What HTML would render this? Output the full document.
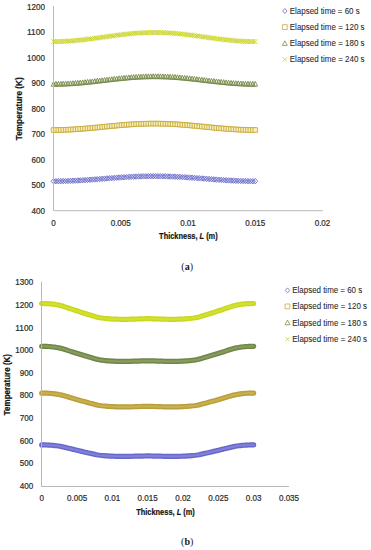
<!DOCTYPE html>
<html><head><meta charset="utf-8"><style>
html,body{margin:0;padding:0;background:#fff;}
svg{display:block;font-family:"Liberation Sans", sans-serif;}
</style></head><body>
<svg width="371" height="550" viewBox="0 0 371 550">
<rect width="371" height="550" fill="#ffffff"/>
<text x="45.00" y="213.60" font-size="8.6" text-anchor="end" font-weight="normal" fill="#2a2a2a" stroke="#2a2a2a" stroke-width="0.2" textLength="13.48" lengthAdjust="spacingAndGlyphs" >400</text>
<text x="45.00" y="188.09" font-size="8.6" text-anchor="end" font-weight="normal" fill="#2a2a2a" stroke="#2a2a2a" stroke-width="0.2" textLength="13.48" lengthAdjust="spacingAndGlyphs" >500</text>
<text x="45.00" y="162.58" font-size="8.6" text-anchor="end" font-weight="normal" fill="#2a2a2a" stroke="#2a2a2a" stroke-width="0.2" textLength="13.48" lengthAdjust="spacingAndGlyphs" >600</text>
<text x="45.00" y="137.07" font-size="8.6" text-anchor="end" font-weight="normal" fill="#2a2a2a" stroke="#2a2a2a" stroke-width="0.2" textLength="13.48" lengthAdjust="spacingAndGlyphs" >700</text>
<text x="45.00" y="111.56" font-size="8.6" text-anchor="end" font-weight="normal" fill="#2a2a2a" stroke="#2a2a2a" stroke-width="0.2" textLength="13.48" lengthAdjust="spacingAndGlyphs" >800</text>
<text x="45.00" y="86.05" font-size="8.6" text-anchor="end" font-weight="normal" fill="#2a2a2a" stroke="#2a2a2a" stroke-width="0.2" textLength="13.48" lengthAdjust="spacingAndGlyphs" >900</text>
<text x="45.00" y="60.54" font-size="8.6" text-anchor="end" font-weight="normal" fill="#2a2a2a" stroke="#2a2a2a" stroke-width="0.2" textLength="17.97" lengthAdjust="spacingAndGlyphs" >1000</text>
<text x="45.00" y="35.03" font-size="8.6" text-anchor="end" font-weight="normal" fill="#2a2a2a" stroke="#2a2a2a" stroke-width="0.2" textLength="17.97" lengthAdjust="spacingAndGlyphs" >1100</text>
<text x="45.00" y="9.52" font-size="8.6" text-anchor="end" font-weight="normal" fill="#2a2a2a" stroke="#2a2a2a" stroke-width="0.2" textLength="17.97" lengthAdjust="spacingAndGlyphs" >1200</text>
<text x="53.50" y="225.90" font-size="8.6" text-anchor="middle" font-weight="normal" fill="#2a2a2a" stroke="#2a2a2a" stroke-width="0.2" textLength="4.49" lengthAdjust="spacingAndGlyphs" >0</text>
<text x="120.75" y="225.90" font-size="8.6" text-anchor="middle" font-weight="normal" fill="#2a2a2a" stroke="#2a2a2a" stroke-width="0.2" textLength="20.2" lengthAdjust="spacingAndGlyphs" >0.005</text>
<text x="188.00" y="225.90" font-size="8.6" text-anchor="middle" font-weight="normal" fill="#2a2a2a" stroke="#2a2a2a" stroke-width="0.2" textLength="15.71" lengthAdjust="spacingAndGlyphs" >0.01</text>
<text x="255.25" y="225.90" font-size="8.6" text-anchor="middle" font-weight="normal" fill="#2a2a2a" stroke="#2a2a2a" stroke-width="0.2" textLength="20.2" lengthAdjust="spacingAndGlyphs" >0.015</text>
<text x="322.50" y="225.90" font-size="8.6" text-anchor="middle" font-weight="normal" fill="#2a2a2a" stroke="#2a2a2a" stroke-width="0.2" textLength="15.71" lengthAdjust="spacingAndGlyphs" >0.02</text>
<text x="188.40" y="239.10" font-size="8.8" text-anchor="middle" font-weight="bold" fill="#141414" stroke="#141414" stroke-width="0.2" textLength="58.6" lengthAdjust="spacingAndGlyphs" >Thickness, <tspan font-style="italic">L</tspan> (m)</text>
<g transform="translate(19.8,108.7) rotate(-90)"><text x="0.00" y="2.60" font-size="8.4" text-anchor="middle" font-weight="bold" fill="#141414" stroke="#141414" stroke-width="0.2" textLength="63" lengthAdjust="spacingAndGlyphs" >Temperature (K)</text></g>
<text x="187.2" y="270.4" font-family="Liberation Serif" font-size="10" text-anchor="middle" fill="#1a1a1a">(<tspan font-weight="bold">a</tspan>)</text>
<text x="33.20" y="489.00" font-size="8.6" text-anchor="end" font-weight="normal" fill="#2a2a2a" stroke="#2a2a2a" stroke-width="0.2" textLength="13.48" lengthAdjust="spacingAndGlyphs" >400</text>
<text x="33.20" y="466.36" font-size="8.6" text-anchor="end" font-weight="normal" fill="#2a2a2a" stroke="#2a2a2a" stroke-width="0.2" textLength="13.48" lengthAdjust="spacingAndGlyphs" >500</text>
<text x="33.20" y="443.72" font-size="8.6" text-anchor="end" font-weight="normal" fill="#2a2a2a" stroke="#2a2a2a" stroke-width="0.2" textLength="13.48" lengthAdjust="spacingAndGlyphs" >600</text>
<text x="33.20" y="421.08" font-size="8.6" text-anchor="end" font-weight="normal" fill="#2a2a2a" stroke="#2a2a2a" stroke-width="0.2" textLength="13.48" lengthAdjust="spacingAndGlyphs" >700</text>
<text x="33.20" y="398.44" font-size="8.6" text-anchor="end" font-weight="normal" fill="#2a2a2a" stroke="#2a2a2a" stroke-width="0.2" textLength="13.48" lengthAdjust="spacingAndGlyphs" >800</text>
<text x="33.20" y="375.80" font-size="8.6" text-anchor="end" font-weight="normal" fill="#2a2a2a" stroke="#2a2a2a" stroke-width="0.2" textLength="13.48" lengthAdjust="spacingAndGlyphs" >900</text>
<text x="33.20" y="353.16" font-size="8.6" text-anchor="end" font-weight="normal" fill="#2a2a2a" stroke="#2a2a2a" stroke-width="0.2" textLength="17.97" lengthAdjust="spacingAndGlyphs" >1000</text>
<text x="33.20" y="330.52" font-size="8.6" text-anchor="end" font-weight="normal" fill="#2a2a2a" stroke="#2a2a2a" stroke-width="0.2" textLength="17.97" lengthAdjust="spacingAndGlyphs" >1100</text>
<text x="33.20" y="307.88" font-size="8.6" text-anchor="end" font-weight="normal" fill="#2a2a2a" stroke="#2a2a2a" stroke-width="0.2" textLength="17.97" lengthAdjust="spacingAndGlyphs" >1200</text>
<text x="33.20" y="285.24" font-size="8.6" text-anchor="end" font-weight="normal" fill="#2a2a2a" stroke="#2a2a2a" stroke-width="0.2" textLength="17.97" lengthAdjust="spacingAndGlyphs" >1300</text>
<text x="41.70" y="501.40" font-size="8.6" text-anchor="middle" font-weight="normal" fill="#2a2a2a" stroke="#2a2a2a" stroke-width="0.2" textLength="4.49" lengthAdjust="spacingAndGlyphs" >0</text>
<text x="77.03" y="501.40" font-size="8.6" text-anchor="middle" font-weight="normal" fill="#2a2a2a" stroke="#2a2a2a" stroke-width="0.2" textLength="20.2" lengthAdjust="spacingAndGlyphs" >0.005</text>
<text x="112.36" y="501.40" font-size="8.6" text-anchor="middle" font-weight="normal" fill="#2a2a2a" stroke="#2a2a2a" stroke-width="0.2" textLength="15.71" lengthAdjust="spacingAndGlyphs" >0.01</text>
<text x="147.69" y="501.40" font-size="8.6" text-anchor="middle" font-weight="normal" fill="#2a2a2a" stroke="#2a2a2a" stroke-width="0.2" textLength="20.2" lengthAdjust="spacingAndGlyphs" >0.015</text>
<text x="183.02" y="501.40" font-size="8.6" text-anchor="middle" font-weight="normal" fill="#2a2a2a" stroke="#2a2a2a" stroke-width="0.2" textLength="15.71" lengthAdjust="spacingAndGlyphs" >0.02</text>
<text x="218.35" y="501.40" font-size="8.6" text-anchor="middle" font-weight="normal" fill="#2a2a2a" stroke="#2a2a2a" stroke-width="0.2" textLength="20.2" lengthAdjust="spacingAndGlyphs" >0.025</text>
<text x="253.68" y="501.40" font-size="8.6" text-anchor="middle" font-weight="normal" fill="#2a2a2a" stroke="#2a2a2a" stroke-width="0.2" textLength="15.71" lengthAdjust="spacingAndGlyphs" >0.03</text>
<text x="289.01" y="501.40" font-size="8.6" text-anchor="middle" font-weight="normal" fill="#2a2a2a" stroke="#2a2a2a" stroke-width="0.2" textLength="20.2" lengthAdjust="spacingAndGlyphs" >0.035</text>
<text x="165.50" y="515.10" font-size="8.8" text-anchor="middle" font-weight="bold" fill="#141414" stroke="#141414" stroke-width="0.2" textLength="58.6" lengthAdjust="spacingAndGlyphs" >Thickness, <tspan font-style="italic">L</tspan> (m)</text>
<g transform="translate(6.9,384.6) rotate(-90)"><text x="0.00" y="2.60" font-size="8.4" text-anchor="middle" font-weight="bold" fill="#141414" stroke="#141414" stroke-width="0.2" textLength="61.2" lengthAdjust="spacingAndGlyphs" >Temperature (K)</text></g>
<text x="187.2" y="544.9" font-family="Liberation Serif" font-size="10" text-anchor="middle" fill="#1a1a1a">(<tspan font-weight="bold">b</tspan>)</text>
<path d="M53.50,181.20 L55.93,181.19 L58.36,181.17 L60.79,181.14 L63.22,181.09 L65.65,181.02 L68.08,180.95 L70.52,180.86 L72.95,180.76 L75.38,180.64 L77.81,180.52 L80.24,180.38 L82.67,180.24 L85.10,180.08 L87.53,179.92 L89.96,179.75 L92.39,179.58 L94.82,179.40 L97.25,179.22 L99.68,179.03 L102.11,178.84 L104.55,178.65 L106.98,178.46 L109.41,178.28 L111.84,178.09 L114.27,177.91 L116.70,177.73 L119.13,177.56 L121.56,177.40 L123.99,177.24 L126.42,177.09 L128.85,176.95 L131.28,176.82 L133.71,176.70 L136.14,176.59 L138.58,176.50 L141.01,176.41 L143.44,176.34 L145.87,176.29 L148.30,176.24 L150.73,176.22 L153.16,176.20 L155.59,176.20 L158.02,176.22 L160.45,176.24 L162.88,176.29 L165.31,176.34 L167.74,176.41 L170.17,176.50 L172.61,176.59 L175.04,176.70 L177.47,176.82 L179.90,176.95 L182.33,177.09 L184.76,177.24 L187.19,177.40 L189.62,177.56 L192.05,177.73 L194.48,177.91 L196.91,178.09 L199.34,178.28 L201.77,178.46 L204.20,178.65 L206.64,178.84 L209.07,179.03 L211.50,179.22 L213.93,179.40 L216.36,179.58 L218.79,179.75 L221.22,179.92 L223.65,180.08 L226.08,180.24 L228.51,180.38 L230.94,180.52 L233.37,180.64 L235.80,180.76 L238.23,180.86 L240.67,180.95 L243.10,181.02 L245.53,181.09 L247.96,181.14 L250.39,181.17 L252.82,181.19 L255.25,181.20" fill="none" stroke="#c8c8f0" stroke-width="4.0"/>
<path d="M51.00,181.20L53.50,178.45L56.00,181.20L53.50,183.95ZM53.43,181.19L55.93,178.44L58.43,181.19L55.93,183.94ZM55.86,181.17L58.36,178.42L60.86,181.17L58.36,183.92ZM58.29,181.14L60.79,178.39L63.29,181.14L60.79,183.89ZM60.72,181.09L63.22,178.34L65.72,181.09L63.22,183.84ZM63.15,181.02L65.65,178.27L68.15,181.02L65.65,183.77ZM65.58,180.95L68.08,178.20L70.58,180.95L68.08,183.70ZM68.02,180.86L70.52,178.11L73.02,180.86L70.52,183.61ZM70.45,180.76L72.95,178.01L75.45,180.76L72.95,183.51ZM72.88,180.64L75.38,177.89L77.88,180.64L75.38,183.39ZM75.31,180.52L77.81,177.77L80.31,180.52L77.81,183.27ZM77.74,180.38L80.24,177.63L82.74,180.38L80.24,183.13ZM80.17,180.24L82.67,177.49L85.17,180.24L82.67,182.99ZM82.60,180.08L85.10,177.33L87.60,180.08L85.10,182.83ZM85.03,179.92L87.53,177.17L90.03,179.92L87.53,182.67ZM87.46,179.75L89.96,177.00L92.46,179.75L89.96,182.50ZM89.89,179.58L92.39,176.83L94.89,179.58L92.39,182.33ZM92.32,179.40L94.82,176.65L97.32,179.40L94.82,182.15ZM94.75,179.22L97.25,176.47L99.75,179.22L97.25,181.97ZM97.18,179.03L99.68,176.28L102.18,179.03L99.68,181.78ZM99.61,178.84L102.11,176.09L104.61,178.84L102.11,181.59ZM102.05,178.65L104.55,175.90L107.05,178.65L104.55,181.40ZM104.48,178.46L106.98,175.71L109.48,178.46L106.98,181.21ZM106.91,178.28L109.41,175.53L111.91,178.28L109.41,181.03ZM109.34,178.09L111.84,175.34L114.34,178.09L111.84,180.84ZM111.77,177.91L114.27,175.16L116.77,177.91L114.27,180.66ZM114.20,177.73L116.70,174.98L119.20,177.73L116.70,180.48ZM116.63,177.56L119.13,174.81L121.63,177.56L119.13,180.31ZM119.06,177.40L121.56,174.65L124.06,177.40L121.56,180.15ZM121.49,177.24L123.99,174.49L126.49,177.24L123.99,179.99ZM123.92,177.09L126.42,174.34L128.92,177.09L126.42,179.84ZM126.35,176.95L128.85,174.20L131.35,176.95L128.85,179.70ZM128.78,176.82L131.28,174.07L133.78,176.82L131.28,179.57ZM131.21,176.70L133.71,173.95L136.21,176.70L133.71,179.45ZM133.64,176.59L136.14,173.84L138.64,176.59L136.14,179.34ZM136.08,176.50L138.58,173.75L141.08,176.50L138.58,179.25ZM138.51,176.41L141.01,173.66L143.51,176.41L141.01,179.16ZM140.94,176.34L143.44,173.59L145.94,176.34L143.44,179.09ZM143.37,176.29L145.87,173.54L148.37,176.29L145.87,179.04ZM145.80,176.24L148.30,173.49L150.80,176.24L148.30,178.99ZM148.23,176.22L150.73,173.47L153.23,176.22L150.73,178.97ZM150.66,176.20L153.16,173.45L155.66,176.20L153.16,178.95ZM153.09,176.20L155.59,173.45L158.09,176.20L155.59,178.95ZM155.52,176.22L158.02,173.47L160.52,176.22L158.02,178.97ZM157.95,176.24L160.45,173.49L162.95,176.24L160.45,178.99ZM160.38,176.29L162.88,173.54L165.38,176.29L162.88,179.04ZM162.81,176.34L165.31,173.59L167.81,176.34L165.31,179.09ZM165.24,176.41L167.74,173.66L170.24,176.41L167.74,179.16ZM167.67,176.50L170.17,173.75L172.67,176.50L170.17,179.25ZM170.11,176.59L172.61,173.84L175.11,176.59L172.61,179.34ZM172.54,176.70L175.04,173.95L177.54,176.70L175.04,179.45ZM174.97,176.82L177.47,174.07L179.97,176.82L177.47,179.57ZM177.40,176.95L179.90,174.20L182.40,176.95L179.90,179.70ZM179.83,177.09L182.33,174.34L184.83,177.09L182.33,179.84ZM182.26,177.24L184.76,174.49L187.26,177.24L184.76,179.99ZM184.69,177.40L187.19,174.65L189.69,177.40L187.19,180.15ZM187.12,177.56L189.62,174.81L192.12,177.56L189.62,180.31ZM189.55,177.73L192.05,174.98L194.55,177.73L192.05,180.48ZM191.98,177.91L194.48,175.16L196.98,177.91L194.48,180.66ZM194.41,178.09L196.91,175.34L199.41,178.09L196.91,180.84ZM196.84,178.28L199.34,175.53L201.84,178.28L199.34,181.03ZM199.27,178.46L201.77,175.71L204.27,178.46L201.77,181.21ZM201.70,178.65L204.20,175.90L206.70,178.65L204.20,181.40ZM204.14,178.84L206.64,176.09L209.14,178.84L206.64,181.59ZM206.57,179.03L209.07,176.28L211.57,179.03L209.07,181.78ZM209.00,179.22L211.50,176.47L214.00,179.22L211.50,181.97ZM211.43,179.40L213.93,176.65L216.43,179.40L213.93,182.15ZM213.86,179.58L216.36,176.83L218.86,179.58L216.36,182.33ZM216.29,179.75L218.79,177.00L221.29,179.75L218.79,182.50ZM218.72,179.92L221.22,177.17L223.72,179.92L221.22,182.67ZM221.15,180.08L223.65,177.33L226.15,180.08L223.65,182.83ZM223.58,180.24L226.08,177.49L228.58,180.24L226.08,182.99ZM226.01,180.38L228.51,177.63L231.01,180.38L228.51,183.13ZM228.44,180.52L230.94,177.77L233.44,180.52L230.94,183.27ZM230.87,180.64L233.37,177.89L235.87,180.64L233.37,183.39ZM233.30,180.76L235.80,178.01L238.30,180.76L235.80,183.51ZM235.73,180.86L238.23,178.11L240.73,180.86L238.23,183.61ZM238.17,180.95L240.67,178.20L243.17,180.95L240.67,183.70ZM240.60,181.02L243.10,178.27L245.60,181.02L243.10,183.77ZM243.03,181.09L245.53,178.34L248.03,181.09L245.53,183.84ZM245.46,181.14L247.96,178.39L250.46,181.14L247.96,183.89ZM247.89,181.17L250.39,178.42L252.89,181.17L250.39,183.92ZM250.32,181.19L252.82,178.44L255.32,181.19L252.82,183.94ZM252.75,181.20L255.25,178.45L257.75,181.20L255.25,183.95Z" fill="none" stroke="#7070ca" stroke-width="0.9"/>
<g fill="#f8f0c0" stroke="#c8ac3c" stroke-width="0.9"><path d="M51.20,127.70h4.6v4.6h-4.6Z"/><path d="M53.63,127.69h4.6v4.6h-4.6Z"/><path d="M56.06,127.66h4.6v4.6h-4.6Z"/><path d="M58.49,127.62h4.6v4.6h-4.6Z"/><path d="M60.92,127.55h4.6v4.6h-4.6Z"/><path d="M63.35,127.47h4.6v4.6h-4.6Z"/><path d="M65.78,127.38h4.6v4.6h-4.6Z"/><path d="M68.22,127.26h4.6v4.6h-4.6Z"/><path d="M70.65,127.13h4.6v4.6h-4.6Z"/><path d="M73.08,126.99h4.6v4.6h-4.6Z"/><path d="M75.51,126.83h4.6v4.6h-4.6Z"/><path d="M77.94,126.65h4.6v4.6h-4.6Z"/><path d="M80.37,126.47h4.6v4.6h-4.6Z"/><path d="M82.80,126.27h4.6v4.6h-4.6Z"/><path d="M85.23,126.06h4.6v4.6h-4.6Z"/><path d="M87.66,125.85h4.6v4.6h-4.6Z"/><path d="M90.09,125.63h4.6v4.6h-4.6Z"/><path d="M92.52,125.40h4.6v4.6h-4.6Z"/><path d="M94.95,125.16h4.6v4.6h-4.6Z"/><path d="M97.38,124.92h4.6v4.6h-4.6Z"/><path d="M99.81,124.68h4.6v4.6h-4.6Z"/><path d="M102.25,124.44h4.6v4.6h-4.6Z"/><path d="M104.68,124.20h4.6v4.6h-4.6Z"/><path d="M107.11,123.96h4.6v4.6h-4.6Z"/><path d="M109.54,123.72h4.6v4.6h-4.6Z"/><path d="M111.97,123.49h4.6v4.6h-4.6Z"/><path d="M114.40,123.26h4.6v4.6h-4.6Z"/><path d="M116.83,123.04h4.6v4.6h-4.6Z"/><path d="M119.26,122.83h4.6v4.6h-4.6Z"/><path d="M121.69,122.63h4.6v4.6h-4.6Z"/><path d="M124.12,122.44h4.6v4.6h-4.6Z"/><path d="M126.55,122.26h4.6v4.6h-4.6Z"/><path d="M128.98,122.09h4.6v4.6h-4.6Z"/><path d="M131.41,121.94h4.6v4.6h-4.6Z"/><path d="M133.84,121.80h4.6v4.6h-4.6Z"/><path d="M136.28,121.68h4.6v4.6h-4.6Z"/><path d="M138.71,121.57h4.6v4.6h-4.6Z"/><path d="M141.14,121.48h4.6v4.6h-4.6Z"/><path d="M143.57,121.41h4.6v4.6h-4.6Z"/><path d="M146.00,121.36h4.6v4.6h-4.6Z"/><path d="M148.43,121.32h4.6v4.6h-4.6Z"/><path d="M150.86,121.30h4.6v4.6h-4.6Z"/><path d="M153.29,121.30h4.6v4.6h-4.6Z"/><path d="M155.72,121.32h4.6v4.6h-4.6Z"/><path d="M158.15,121.36h4.6v4.6h-4.6Z"/><path d="M160.58,121.41h4.6v4.6h-4.6Z"/><path d="M163.01,121.48h4.6v4.6h-4.6Z"/><path d="M165.44,121.57h4.6v4.6h-4.6Z"/><path d="M167.87,121.68h4.6v4.6h-4.6Z"/><path d="M170.31,121.80h4.6v4.6h-4.6Z"/><path d="M172.74,121.94h4.6v4.6h-4.6Z"/><path d="M175.17,122.09h4.6v4.6h-4.6Z"/><path d="M177.60,122.26h4.6v4.6h-4.6Z"/><path d="M180.03,122.44h4.6v4.6h-4.6Z"/><path d="M182.46,122.63h4.6v4.6h-4.6Z"/><path d="M184.89,122.83h4.6v4.6h-4.6Z"/><path d="M187.32,123.04h4.6v4.6h-4.6Z"/><path d="M189.75,123.26h4.6v4.6h-4.6Z"/><path d="M192.18,123.49h4.6v4.6h-4.6Z"/><path d="M194.61,123.72h4.6v4.6h-4.6Z"/><path d="M197.04,123.96h4.6v4.6h-4.6Z"/><path d="M199.47,124.20h4.6v4.6h-4.6Z"/><path d="M201.90,124.44h4.6v4.6h-4.6Z"/><path d="M204.34,124.68h4.6v4.6h-4.6Z"/><path d="M206.77,124.92h4.6v4.6h-4.6Z"/><path d="M209.20,125.16h4.6v4.6h-4.6Z"/><path d="M211.63,125.40h4.6v4.6h-4.6Z"/><path d="M214.06,125.63h4.6v4.6h-4.6Z"/><path d="M216.49,125.85h4.6v4.6h-4.6Z"/><path d="M218.92,126.06h4.6v4.6h-4.6Z"/><path d="M221.35,126.27h4.6v4.6h-4.6Z"/><path d="M223.78,126.47h4.6v4.6h-4.6Z"/><path d="M226.21,126.65h4.6v4.6h-4.6Z"/><path d="M228.64,126.83h4.6v4.6h-4.6Z"/><path d="M231.07,126.99h4.6v4.6h-4.6Z"/><path d="M233.50,127.13h4.6v4.6h-4.6Z"/><path d="M235.93,127.26h4.6v4.6h-4.6Z"/><path d="M238.37,127.38h4.6v4.6h-4.6Z"/><path d="M240.80,127.47h4.6v4.6h-4.6Z"/><path d="M243.23,127.55h4.6v4.6h-4.6Z"/><path d="M245.66,127.62h4.6v4.6h-4.6Z"/><path d="M248.09,127.66h4.6v4.6h-4.6Z"/><path d="M250.52,127.69h4.6v4.6h-4.6Z"/><path d="M252.95,127.70h4.6v4.6h-4.6Z"/></g>
<path d="M53.50,84.60 L55.93,84.59 L58.36,84.56 L60.79,84.50 L63.22,84.43 L65.65,84.33 L68.08,84.21 L70.52,84.08 L72.95,83.92 L75.38,83.75 L77.81,83.56 L80.24,83.36 L82.67,83.14 L85.10,82.90 L87.53,82.66 L89.96,82.40 L92.39,82.14 L94.82,81.86 L97.25,81.59 L99.68,81.30 L102.11,81.02 L104.55,80.73 L106.98,80.44 L109.41,80.16 L111.84,79.87 L114.27,79.60 L116.70,79.33 L119.13,79.07 L121.56,78.82 L123.99,78.58 L126.42,78.35 L128.85,78.14 L131.28,77.94 L133.71,77.76 L136.14,77.60 L138.58,77.45 L141.01,77.32 L143.44,77.22 L145.87,77.13 L148.30,77.07 L150.73,77.02 L153.16,77.00 L155.59,77.00 L158.02,77.02 L160.45,77.07 L162.88,77.13 L165.31,77.22 L167.74,77.32 L170.17,77.45 L172.61,77.60 L175.04,77.76 L177.47,77.94 L179.90,78.14 L182.33,78.35 L184.76,78.58 L187.19,78.82 L189.62,79.07 L192.05,79.33 L194.48,79.60 L196.91,79.87 L199.34,80.16 L201.77,80.44 L204.20,80.73 L206.64,81.02 L209.07,81.30 L211.50,81.59 L213.93,81.86 L216.36,82.14 L218.79,82.40 L221.22,82.66 L223.65,82.90 L226.08,83.14 L228.51,83.36 L230.94,83.56 L233.37,83.75 L235.80,83.92 L238.23,84.08 L240.67,84.21 L243.10,84.33 L245.53,84.43 L247.96,84.50 L250.39,84.56 L252.82,84.59 L255.25,84.60" fill="none" stroke="#e8eecc" stroke-width="3.4"/>
<path d="M51.20,86.21L53.50,81.40L55.80,86.21ZM53.63,86.20L55.93,81.39L58.23,86.20ZM56.06,86.17L58.36,81.36L60.66,86.17ZM58.49,86.11L60.79,81.30L63.09,86.11ZM60.92,86.04L63.22,81.23L65.52,86.04ZM63.35,85.94L65.65,81.13L67.95,85.94ZM65.78,85.82L68.08,81.01L70.38,85.82ZM68.22,85.69L70.52,80.88L72.82,85.69ZM70.65,85.53L72.95,80.72L75.25,85.53ZM73.08,85.36L75.38,80.55L77.68,85.36ZM75.51,85.17L77.81,80.36L80.11,85.17ZM77.94,84.97L80.24,80.16L82.54,84.97ZM80.37,84.75L82.67,79.94L84.97,84.75ZM82.80,84.51L85.10,79.70L87.40,84.51ZM85.23,84.27L87.53,79.46L89.83,84.27ZM87.66,84.01L89.96,79.20L92.26,84.01ZM90.09,83.75L92.39,78.94L94.69,83.75ZM92.52,83.47L94.82,78.66L97.12,83.47ZM94.95,83.20L97.25,78.39L99.55,83.20ZM97.38,82.91L99.68,78.10L101.98,82.91ZM99.81,82.63L102.11,77.82L104.41,82.63ZM102.25,82.34L104.55,77.53L106.85,82.34ZM104.68,82.05L106.98,77.24L109.28,82.05ZM107.11,81.77L109.41,76.96L111.71,81.77ZM109.54,81.48L111.84,76.67L114.14,81.48ZM111.97,81.21L114.27,76.40L116.57,81.21ZM114.40,80.94L116.70,76.13L119.00,80.94ZM116.83,80.68L119.13,75.87L121.43,80.68ZM119.26,80.43L121.56,75.62L123.86,80.43ZM121.69,80.19L123.99,75.38L126.29,80.19ZM124.12,79.96L126.42,75.15L128.72,79.96ZM126.55,79.75L128.85,74.94L131.15,79.75ZM128.98,79.55L131.28,74.74L133.58,79.55ZM131.41,79.37L133.71,74.56L136.01,79.37ZM133.84,79.21L136.14,74.40L138.44,79.21ZM136.28,79.06L138.58,74.25L140.88,79.06ZM138.71,78.93L141.01,74.12L143.31,78.93ZM141.14,78.83L143.44,74.02L145.74,78.83ZM143.57,78.74L145.87,73.93L148.17,78.74ZM146.00,78.68L148.30,73.87L150.60,78.68ZM148.43,78.63L150.73,73.82L153.03,78.63ZM150.86,78.61L153.16,73.80L155.46,78.61ZM153.29,78.61L155.59,73.80L157.89,78.61ZM155.72,78.63L158.02,73.82L160.32,78.63ZM158.15,78.68L160.45,73.87L162.75,78.68ZM160.58,78.74L162.88,73.93L165.18,78.74ZM163.01,78.83L165.31,74.02L167.61,78.83ZM165.44,78.93L167.74,74.12L170.04,78.93ZM167.87,79.06L170.17,74.25L172.47,79.06ZM170.31,79.21L172.61,74.40L174.91,79.21ZM172.74,79.37L175.04,74.56L177.34,79.37ZM175.17,79.55L177.47,74.74L179.77,79.55ZM177.60,79.75L179.90,74.94L182.20,79.75ZM180.03,79.96L182.33,75.15L184.63,79.96ZM182.46,80.19L184.76,75.38L187.06,80.19ZM184.89,80.43L187.19,75.62L189.49,80.43ZM187.32,80.68L189.62,75.87L191.92,80.68ZM189.75,80.94L192.05,76.13L194.35,80.94ZM192.18,81.21L194.48,76.40L196.78,81.21ZM194.61,81.48L196.91,76.67L199.21,81.48ZM197.04,81.77L199.34,76.96L201.64,81.77ZM199.47,82.05L201.77,77.24L204.07,82.05ZM201.90,82.34L204.20,77.53L206.50,82.34ZM204.34,82.63L206.64,77.82L208.94,82.63ZM206.77,82.91L209.07,78.10L211.37,82.91ZM209.20,83.20L211.50,78.39L213.80,83.20ZM211.63,83.47L213.93,78.66L216.23,83.47ZM214.06,83.75L216.36,78.94L218.66,83.75ZM216.49,84.01L218.79,79.20L221.09,84.01ZM218.92,84.27L221.22,79.46L223.52,84.27ZM221.35,84.51L223.65,79.70L225.95,84.51ZM223.78,84.75L226.08,79.94L228.38,84.75ZM226.21,84.97L228.51,80.16L230.81,84.97ZM228.64,85.17L230.94,80.36L233.24,85.17ZM231.07,85.36L233.37,80.55L235.67,85.36ZM233.50,85.53L235.80,80.72L238.10,85.53ZM235.93,85.69L238.23,80.88L240.53,85.69ZM238.37,85.82L240.67,81.01L242.97,85.82ZM240.80,85.94L243.10,81.13L245.40,85.94ZM243.23,86.04L245.53,81.23L247.83,86.04ZM245.66,86.11L247.96,81.30L250.26,86.11ZM248.09,86.17L250.39,81.36L252.69,86.17ZM250.52,86.20L252.82,81.39L255.12,86.20ZM252.95,86.21L255.25,81.40L257.55,86.21Z" fill="none" stroke="#74884c" stroke-width="0.9"/>
<path d="M53.50,41.60 L55.93,41.59 L58.36,41.55 L60.79,41.48 L63.22,41.39 L65.65,41.28 L68.08,41.14 L70.52,40.98 L72.95,40.79 L75.38,40.58 L77.81,40.36 L80.24,40.11 L82.67,39.85 L85.10,39.57 L87.53,39.28 L89.96,38.97 L92.39,38.65 L94.82,38.32 L97.25,37.99 L99.68,37.65 L102.11,37.31 L104.55,36.96 L106.98,36.62 L109.41,36.28 L111.84,35.94 L114.27,35.61 L116.70,35.29 L119.13,34.98 L121.56,34.68 L123.99,34.39 L126.42,34.12 L128.85,33.86 L131.28,33.63 L133.71,33.41 L136.14,33.21 L138.58,33.04 L141.01,32.89 L143.44,32.76 L145.87,32.66 L148.30,32.58 L150.73,32.53 L153.16,32.50 L155.59,32.50 L158.02,32.53 L160.45,32.58 L162.88,32.66 L165.31,32.76 L167.74,32.89 L170.17,33.04 L172.61,33.21 L175.04,33.41 L177.47,33.63 L179.90,33.86 L182.33,34.12 L184.76,34.39 L187.19,34.68 L189.62,34.98 L192.05,35.29 L194.48,35.61 L196.91,35.94 L199.34,36.28 L201.77,36.62 L204.20,36.96 L206.64,37.31 L209.07,37.65 L211.50,37.99 L213.93,38.32 L216.36,38.65 L218.79,38.97 L221.22,39.28 L223.65,39.57 L226.08,39.85 L228.51,40.11 L230.94,40.36 L233.37,40.58 L235.80,40.79 L238.23,40.98 L240.67,41.14 L243.10,41.28 L245.53,41.39 L247.96,41.48 L250.39,41.55 L252.82,41.59 L255.25,41.60" fill="none" stroke="#e6ea84" stroke-width="4.0"/>
<path d="M51.00,39.10L56.00,44.10M51.00,44.10L56.00,39.10M53.43,39.09L58.43,44.09M53.43,44.09L58.43,39.09M55.86,39.05L60.86,44.05M55.86,44.05L60.86,39.05M58.29,38.98L63.29,43.98M58.29,43.98L63.29,38.98M60.72,38.89L65.72,43.89M60.72,43.89L65.72,38.89M63.15,38.78L68.15,43.78M63.15,43.78L68.15,38.78M65.58,38.64L70.58,43.64M65.58,43.64L70.58,38.64M68.02,38.48L73.02,43.48M68.02,43.48L73.02,38.48M70.45,38.29L75.45,43.29M70.45,43.29L75.45,38.29M72.88,38.08L77.88,43.08M72.88,43.08L77.88,38.08M75.31,37.86L80.31,42.86M75.31,42.86L80.31,37.86M77.74,37.61L82.74,42.61M77.74,42.61L82.74,37.61M80.17,37.35L85.17,42.35M80.17,42.35L85.17,37.35M82.60,37.07L87.60,42.07M82.60,42.07L87.60,37.07M85.03,36.78L90.03,41.78M85.03,41.78L90.03,36.78M87.46,36.47L92.46,41.47M87.46,41.47L92.46,36.47M89.89,36.15L94.89,41.15M89.89,41.15L94.89,36.15M92.32,35.82L97.32,40.82M92.32,40.82L97.32,35.82M94.75,35.49L99.75,40.49M94.75,40.49L99.75,35.49M97.18,35.15L102.18,40.15M97.18,40.15L102.18,35.15M99.61,34.81L104.61,39.81M99.61,39.81L104.61,34.81M102.05,34.46L107.05,39.46M102.05,39.46L107.05,34.46M104.48,34.12L109.48,39.12M104.48,39.12L109.48,34.12M106.91,33.78L111.91,38.78M106.91,38.78L111.91,33.78M109.34,33.44L114.34,38.44M109.34,38.44L114.34,33.44M111.77,33.11L116.77,38.11M111.77,38.11L116.77,33.11M114.20,32.79L119.20,37.79M114.20,37.79L119.20,32.79M116.63,32.48L121.63,37.48M116.63,37.48L121.63,32.48M119.06,32.18L124.06,37.18M119.06,37.18L124.06,32.18M121.49,31.89L126.49,36.89M121.49,36.89L126.49,31.89M123.92,31.62L128.92,36.62M123.92,36.62L128.92,31.62M126.35,31.36L131.35,36.36M126.35,36.36L131.35,31.36M128.78,31.13L133.78,36.13M128.78,36.13L133.78,31.13M131.21,30.91L136.21,35.91M131.21,35.91L136.21,30.91M133.64,30.71L138.64,35.71M133.64,35.71L138.64,30.71M136.08,30.54L141.08,35.54M136.08,35.54L141.08,30.54M138.51,30.39L143.51,35.39M138.51,35.39L143.51,30.39M140.94,30.26L145.94,35.26M140.94,35.26L145.94,30.26M143.37,30.16L148.37,35.16M143.37,35.16L148.37,30.16M145.80,30.08L150.80,35.08M145.80,35.08L150.80,30.08M148.23,30.03L153.23,35.03M148.23,35.03L153.23,30.03M150.66,30.00L155.66,35.00M150.66,35.00L155.66,30.00M153.09,30.00L158.09,35.00M153.09,35.00L158.09,30.00M155.52,30.03L160.52,35.03M155.52,35.03L160.52,30.03M157.95,30.08L162.95,35.08M157.95,35.08L162.95,30.08M160.38,30.16L165.38,35.16M160.38,35.16L165.38,30.16M162.81,30.26L167.81,35.26M162.81,35.26L167.81,30.26M165.24,30.39L170.24,35.39M165.24,35.39L170.24,30.39M167.67,30.54L172.67,35.54M167.67,35.54L172.67,30.54M170.11,30.71L175.11,35.71M170.11,35.71L175.11,30.71M172.54,30.91L177.54,35.91M172.54,35.91L177.54,30.91M174.97,31.13L179.97,36.13M174.97,36.13L179.97,31.13M177.40,31.36L182.40,36.36M177.40,36.36L182.40,31.36M179.83,31.62L184.83,36.62M179.83,36.62L184.83,31.62M182.26,31.89L187.26,36.89M182.26,36.89L187.26,31.89M184.69,32.18L189.69,37.18M184.69,37.18L189.69,32.18M187.12,32.48L192.12,37.48M187.12,37.48L192.12,32.48M189.55,32.79L194.55,37.79M189.55,37.79L194.55,32.79M191.98,33.11L196.98,38.11M191.98,38.11L196.98,33.11M194.41,33.44L199.41,38.44M194.41,38.44L199.41,33.44M196.84,33.78L201.84,38.78M196.84,38.78L201.84,33.78M199.27,34.12L204.27,39.12M199.27,39.12L204.27,34.12M201.70,34.46L206.70,39.46M201.70,39.46L206.70,34.46M204.14,34.81L209.14,39.81M204.14,39.81L209.14,34.81M206.57,35.15L211.57,40.15M206.57,40.15L211.57,35.15M209.00,35.49L214.00,40.49M209.00,40.49L214.00,35.49M211.43,35.82L216.43,40.82M211.43,40.82L216.43,35.82M213.86,36.15L218.86,41.15M213.86,41.15L218.86,36.15M216.29,36.47L221.29,41.47M216.29,41.47L221.29,36.47M218.72,36.78L223.72,41.78M218.72,41.78L223.72,36.78M221.15,37.07L226.15,42.07M221.15,42.07L226.15,37.07M223.58,37.35L228.58,42.35M223.58,42.35L228.58,37.35M226.01,37.61L231.01,42.61M226.01,42.61L231.01,37.61M228.44,37.86L233.44,42.86M228.44,42.86L233.44,37.86M230.87,38.08L235.87,43.08M230.87,43.08L235.87,38.08M233.30,38.29L238.30,43.29M233.30,43.29L238.30,38.29M235.73,38.48L240.73,43.48M235.73,43.48L240.73,38.48M238.17,38.64L243.17,43.64M238.17,43.64L243.17,38.64M240.60,38.78L245.60,43.78M240.60,43.78L245.60,38.78M243.03,38.89L248.03,43.89M243.03,43.89L248.03,38.89M245.46,38.98L250.46,43.98M245.46,43.98L250.46,38.98M247.89,39.05L252.89,44.05M247.89,44.05L252.89,39.05M250.32,39.09L255.32,44.09M250.32,44.09L255.32,39.09M252.75,39.10L257.75,44.10M252.75,44.10L257.75,39.10" fill="none" stroke="#ccd630" stroke-width="0.9"/>
<path d="M41.70,444.90 L42.58,444.91 L43.79,444.93 L45.23,444.94 L46.80,444.98 L48.42,445.04 L50.00,445.13 L51.57,445.26 L53.21,445.40 L54.89,445.58 L56.60,445.78 L58.31,446.01 L60.00,446.28 L61.67,446.60 L63.33,446.96 L65.00,447.35 L66.67,447.76 L68.33,448.18 L70.00,448.58 L71.67,448.98 L73.33,449.38 L75.00,449.79 L76.67,450.19 L78.33,450.60 L80.00,451.00 L81.67,451.39 L83.33,451.78 L85.00,452.17 L86.67,452.56 L88.33,452.93 L90.00,453.29 L91.64,453.65 L93.26,454.01 L94.88,454.36 L96.52,454.69 L98.22,454.99 L100.00,455.25 L101.87,455.47 L103.81,455.66 L105.81,455.82 L107.85,455.95 L109.92,456.07 L112.00,456.17 L114.12,456.25 L116.30,456.31 L118.50,456.36 L120.70,456.38 L122.88,456.40 L125.00,456.40 L127.07,456.39 L129.12,456.36 L131.14,456.31 L133.13,456.26 L135.09,456.21 L137.00,456.17 L138.86,456.13 L140.66,456.08 L142.43,456.03 L144.18,455.98 L145.93,455.95 L147.70,455.94 L149.47,455.95 L151.22,455.98 L152.97,456.03 L154.74,456.08 L156.54,456.13 L158.40,456.17 L160.31,456.21 L162.27,456.26 L164.26,456.31 L166.28,456.36 L168.33,456.39 L170.40,456.40 L172.52,456.40 L174.70,456.38 L176.90,456.36 L179.10,456.31 L181.28,456.25 L183.40,456.17 L185.48,456.07 L187.55,455.95 L189.59,455.82 L191.59,455.66 L193.53,455.47 L195.40,455.25 L197.18,454.99 L198.88,454.69 L200.52,454.36 L202.14,454.01 L203.76,453.65 L205.40,453.29 L207.07,452.93 L208.73,452.56 L210.40,452.17 L212.07,451.78 L213.73,451.39 L215.40,451.00 L217.07,450.60 L218.73,450.19 L220.40,449.79 L222.07,449.38 L223.73,448.98 L225.40,448.58 L227.07,448.18 L228.73,447.76 L230.40,447.35 L232.07,446.96 L233.73,446.60 L235.40,446.28 L237.09,446.01 L238.80,445.78 L240.51,445.58 L242.19,445.40 L243.83,445.26 L245.40,445.13 L246.98,445.04 L248.60,444.98 L250.17,444.94 L251.61,444.93 L252.82,444.91 L253.70,444.90" fill="none" stroke="#6868cc" stroke-width="5.2" stroke-linecap="round" stroke-linejoin="round"/>
<path d="M41.70,444.90 L42.58,444.91 L43.79,444.93 L45.23,444.94 L46.80,444.98 L48.42,445.04 L50.00,445.13 L51.57,445.26 L53.21,445.40 L54.89,445.58 L56.60,445.78 L58.31,446.01 L60.00,446.28 L61.67,446.60 L63.33,446.96 L65.00,447.35 L66.67,447.76 L68.33,448.18 L70.00,448.58 L71.67,448.98 L73.33,449.38 L75.00,449.79 L76.67,450.19 L78.33,450.60 L80.00,451.00 L81.67,451.39 L83.33,451.78 L85.00,452.17 L86.67,452.56 L88.33,452.93 L90.00,453.29 L91.64,453.65 L93.26,454.01 L94.88,454.36 L96.52,454.69 L98.22,454.99 L100.00,455.25 L101.87,455.47 L103.81,455.66 L105.81,455.82 L107.85,455.95 L109.92,456.07 L112.00,456.17 L114.12,456.25 L116.30,456.31 L118.50,456.36 L120.70,456.38 L122.88,456.40 L125.00,456.40 L127.07,456.39 L129.12,456.36 L131.14,456.31 L133.13,456.26 L135.09,456.21 L137.00,456.17 L138.86,456.13 L140.66,456.08 L142.43,456.03 L144.18,455.98 L145.93,455.95 L147.70,455.94 L149.47,455.95 L151.22,455.98 L152.97,456.03 L154.74,456.08 L156.54,456.13 L158.40,456.17 L160.31,456.21 L162.27,456.26 L164.26,456.31 L166.28,456.36 L168.33,456.39 L170.40,456.40 L172.52,456.40 L174.70,456.38 L176.90,456.36 L179.10,456.31 L181.28,456.25 L183.40,456.17 L185.48,456.07 L187.55,455.95 L189.59,455.82 L191.59,455.66 L193.53,455.47 L195.40,455.25 L197.18,454.99 L198.88,454.69 L200.52,454.36 L202.14,454.01 L203.76,453.65 L205.40,453.29 L207.07,452.93 L208.73,452.56 L210.40,452.17 L212.07,451.78 L213.73,451.39 L215.40,451.00 L217.07,450.60 L218.73,450.19 L220.40,449.79 L222.07,449.38 L223.73,448.98 L225.40,448.58 L227.07,448.18 L228.73,447.76 L230.40,447.35 L232.07,446.96 L233.73,446.60 L235.40,446.28 L237.09,446.01 L238.80,445.78 L240.51,445.58 L242.19,445.40 L243.83,445.26 L245.40,445.13 L246.98,445.04 L248.60,444.98 L250.17,444.94 L251.61,444.93 L252.82,444.91 L253.70,444.90" fill="none" stroke="#8080da" stroke-width="2.2" stroke-linecap="round" stroke-linejoin="round"/>
<path d="M41.70,393.10 L42.58,393.12 L43.79,393.13 L45.23,393.15 L46.80,393.19 L48.42,393.26 L50.00,393.38 L51.57,393.53 L53.21,393.70 L54.89,393.91 L56.60,394.15 L58.31,394.43 L60.00,394.76 L61.67,395.13 L63.33,395.57 L65.00,396.04 L66.67,396.53 L68.33,397.03 L70.00,397.52 L71.67,397.99 L73.33,398.48 L75.00,398.96 L76.67,399.45 L78.33,399.94 L80.00,400.41 L81.67,400.89 L83.33,401.36 L85.00,401.83 L86.67,402.29 L88.33,402.74 L90.00,403.17 L91.64,403.60 L93.26,404.03 L94.88,404.45 L96.52,404.85 L98.22,405.21 L100.00,405.52 L101.87,405.79 L103.81,406.01 L105.81,406.20 L107.85,406.36 L109.92,406.50 L112.00,406.62 L114.12,406.72 L116.30,406.80 L118.50,406.85 L120.70,406.88 L122.88,406.90 L125.00,406.90 L127.07,406.89 L129.12,406.85 L131.14,406.80 L133.13,406.74 L135.09,406.68 L137.00,406.62 L138.86,406.57 L140.66,406.51 L142.43,406.45 L144.18,406.40 L145.93,406.36 L147.70,406.35 L149.47,406.36 L151.22,406.40 L152.97,406.45 L154.74,406.51 L156.54,406.57 L158.40,406.62 L160.31,406.68 L162.27,406.74 L164.26,406.80 L166.28,406.85 L168.33,406.89 L170.40,406.90 L172.52,406.90 L174.70,406.88 L176.90,406.85 L179.10,406.80 L181.28,406.72 L183.40,406.62 L185.48,406.50 L187.55,406.36 L189.59,406.20 L191.59,406.01 L193.53,405.79 L195.40,405.52 L197.18,405.21 L198.88,404.85 L200.52,404.45 L202.14,404.03 L203.76,403.60 L205.40,403.17 L207.07,402.74 L208.73,402.29 L210.40,401.83 L212.07,401.36 L213.73,400.89 L215.40,400.41 L217.07,399.94 L218.73,399.45 L220.40,398.97 L222.07,398.48 L223.73,397.99 L225.40,397.52 L227.07,397.03 L228.73,396.53 L230.40,396.04 L232.07,395.57 L233.73,395.13 L235.40,394.76 L237.09,394.43 L238.80,394.15 L240.51,393.91 L242.19,393.70 L243.83,393.53 L245.40,393.38 L246.98,393.26 L248.60,393.19 L250.17,393.15 L251.61,393.13 L252.82,393.12 L253.70,393.10" fill="none" stroke="#b89e3c" stroke-width="5.2" stroke-linecap="round" stroke-linejoin="round"/>
<path d="M41.70,393.10 L42.58,393.12 L43.79,393.13 L45.23,393.15 L46.80,393.19 L48.42,393.26 L50.00,393.38 L51.57,393.53 L53.21,393.70 L54.89,393.91 L56.60,394.15 L58.31,394.43 L60.00,394.76 L61.67,395.13 L63.33,395.57 L65.00,396.04 L66.67,396.53 L68.33,397.03 L70.00,397.52 L71.67,397.99 L73.33,398.48 L75.00,398.96 L76.67,399.45 L78.33,399.94 L80.00,400.41 L81.67,400.89 L83.33,401.36 L85.00,401.83 L86.67,402.29 L88.33,402.74 L90.00,403.17 L91.64,403.60 L93.26,404.03 L94.88,404.45 L96.52,404.85 L98.22,405.21 L100.00,405.52 L101.87,405.79 L103.81,406.01 L105.81,406.20 L107.85,406.36 L109.92,406.50 L112.00,406.62 L114.12,406.72 L116.30,406.80 L118.50,406.85 L120.70,406.88 L122.88,406.90 L125.00,406.90 L127.07,406.89 L129.12,406.85 L131.14,406.80 L133.13,406.74 L135.09,406.68 L137.00,406.62 L138.86,406.57 L140.66,406.51 L142.43,406.45 L144.18,406.40 L145.93,406.36 L147.70,406.35 L149.47,406.36 L151.22,406.40 L152.97,406.45 L154.74,406.51 L156.54,406.57 L158.40,406.62 L160.31,406.68 L162.27,406.74 L164.26,406.80 L166.28,406.85 L168.33,406.89 L170.40,406.90 L172.52,406.90 L174.70,406.88 L176.90,406.85 L179.10,406.80 L181.28,406.72 L183.40,406.62 L185.48,406.50 L187.55,406.36 L189.59,406.20 L191.59,406.01 L193.53,405.79 L195.40,405.52 L197.18,405.21 L198.88,404.85 L200.52,404.45 L202.14,404.03 L203.76,403.60 L205.40,403.17 L207.07,402.74 L208.73,402.29 L210.40,401.83 L212.07,401.36 L213.73,400.89 L215.40,400.41 L217.07,399.94 L218.73,399.45 L220.40,398.97 L222.07,398.48 L223.73,397.99 L225.40,397.52 L227.07,397.03 L228.73,396.53 L230.40,396.04 L232.07,395.57 L233.73,395.13 L235.40,394.76 L237.09,394.43 L238.80,394.15 L240.51,393.91 L242.19,393.70 L243.83,393.53 L245.40,393.38 L246.98,393.26 L248.60,393.19 L250.17,393.15 L251.61,393.13 L252.82,393.12 L253.70,393.10" fill="none" stroke="#c8b04e" stroke-width="2.2" stroke-linecap="round" stroke-linejoin="round"/>
<path d="M41.70,346.30 L42.58,346.32 L43.79,346.33 L45.23,346.36 L46.80,346.40 L48.42,346.48 L50.00,346.60 L51.57,346.77 L53.21,346.96 L54.89,347.19 L56.60,347.45 L58.31,347.76 L60.00,348.11 L61.67,348.53 L63.33,349.00 L65.00,349.52 L66.67,350.06 L68.33,350.60 L70.00,351.13 L71.67,351.65 L73.33,352.18 L75.00,352.72 L76.67,353.25 L78.33,353.78 L80.00,354.30 L81.67,354.82 L83.33,355.34 L85.00,355.85 L86.67,356.36 L88.33,356.85 L90.00,357.32 L91.64,357.79 L93.26,358.26 L94.88,358.72 L96.52,359.15 L98.22,359.55 L100.00,359.89 L101.87,360.18 L103.81,360.43 L105.81,360.64 L107.85,360.81 L109.92,360.96 L112.00,361.10 L114.12,361.21 L116.30,361.29 L118.50,361.34 L120.70,361.38 L122.88,361.40 L125.00,361.40 L127.07,361.38 L129.12,361.34 L131.14,361.29 L133.13,361.22 L135.09,361.16 L137.00,361.10 L138.86,361.04 L140.66,360.97 L142.43,360.91 L144.18,360.85 L145.93,360.81 L147.70,360.80 L149.47,360.81 L151.22,360.85 L152.97,360.91 L154.74,360.97 L156.54,361.04 L158.40,361.10 L160.31,361.16 L162.27,361.22 L164.26,361.29 L166.28,361.34 L168.33,361.38 L170.40,361.40 L172.52,361.40 L174.70,361.38 L176.90,361.34 L179.10,361.29 L181.28,361.21 L183.40,361.10 L185.48,360.96 L187.55,360.81 L189.59,360.64 L191.59,360.43 L193.53,360.18 L195.40,359.89 L197.18,359.55 L198.88,359.15 L200.52,358.72 L202.14,358.26 L203.76,357.79 L205.40,357.32 L207.07,356.85 L208.73,356.36 L210.40,355.85 L212.07,355.34 L213.73,354.82 L215.40,354.30 L217.07,353.78 L218.73,353.25 L220.40,352.72 L222.07,352.18 L223.73,351.65 L225.40,351.13 L227.07,350.60 L228.73,350.06 L230.40,349.52 L232.07,349.00 L233.73,348.53 L235.40,348.11 L237.09,347.76 L238.80,347.45 L240.51,347.19 L242.19,346.96 L243.83,346.77 L245.40,346.60 L246.98,346.48 L248.60,346.40 L250.17,346.36 L251.61,346.33 L252.82,346.32 L253.70,346.30" fill="none" stroke="#70854a" stroke-width="5.2" stroke-linecap="round" stroke-linejoin="round"/>
<path d="M41.70,346.30 L42.58,346.32 L43.79,346.33 L45.23,346.36 L46.80,346.40 L48.42,346.48 L50.00,346.60 L51.57,346.77 L53.21,346.96 L54.89,347.19 L56.60,347.45 L58.31,347.76 L60.00,348.11 L61.67,348.53 L63.33,349.00 L65.00,349.52 L66.67,350.06 L68.33,350.60 L70.00,351.13 L71.67,351.65 L73.33,352.18 L75.00,352.72 L76.67,353.25 L78.33,353.78 L80.00,354.30 L81.67,354.82 L83.33,355.34 L85.00,355.85 L86.67,356.36 L88.33,356.85 L90.00,357.32 L91.64,357.79 L93.26,358.26 L94.88,358.72 L96.52,359.15 L98.22,359.55 L100.00,359.89 L101.87,360.18 L103.81,360.43 L105.81,360.64 L107.85,360.81 L109.92,360.96 L112.00,361.10 L114.12,361.21 L116.30,361.29 L118.50,361.34 L120.70,361.38 L122.88,361.40 L125.00,361.40 L127.07,361.38 L129.12,361.34 L131.14,361.29 L133.13,361.22 L135.09,361.16 L137.00,361.10 L138.86,361.04 L140.66,360.97 L142.43,360.91 L144.18,360.85 L145.93,360.81 L147.70,360.80 L149.47,360.81 L151.22,360.85 L152.97,360.91 L154.74,360.97 L156.54,361.04 L158.40,361.10 L160.31,361.16 L162.27,361.22 L164.26,361.29 L166.28,361.34 L168.33,361.38 L170.40,361.40 L172.52,361.40 L174.70,361.38 L176.90,361.34 L179.10,361.29 L181.28,361.21 L183.40,361.10 L185.48,360.96 L187.55,360.81 L189.59,360.64 L191.59,360.43 L193.53,360.18 L195.40,359.89 L197.18,359.55 L198.88,359.15 L200.52,358.72 L202.14,358.26 L203.76,357.79 L205.40,357.32 L207.07,356.85 L208.73,356.36 L210.40,355.85 L212.07,355.34 L213.73,354.82 L215.40,354.30 L217.07,353.78 L218.73,353.25 L220.40,352.72 L222.07,352.18 L223.73,351.65 L225.40,351.13 L227.07,350.60 L228.73,350.06 L230.40,349.52 L232.07,349.00 L233.73,348.53 L235.40,348.11 L237.09,347.76 L238.80,347.45 L240.51,347.19 L242.19,346.96 L243.83,346.77 L245.40,346.60 L246.98,346.48 L248.60,346.40 L250.17,346.36 L251.61,346.33 L252.82,346.32 L253.70,346.30" fill="none" stroke="#889c5c" stroke-width="2.2" stroke-linecap="round" stroke-linejoin="round"/>
<path d="M41.70,303.50 L42.58,303.52 L43.79,303.54 L45.23,303.56 L46.80,303.61 L48.42,303.69 L50.00,303.82 L51.57,303.99 L53.21,304.19 L54.89,304.43 L56.60,304.71 L58.31,305.03 L60.00,305.40 L61.67,305.83 L63.33,306.33 L65.00,306.87 L66.67,307.43 L68.33,308.00 L70.00,308.56 L71.67,309.10 L73.33,309.66 L75.00,310.22 L76.67,310.77 L78.33,311.33 L80.00,311.87 L81.67,312.42 L83.33,312.96 L85.00,313.49 L86.67,314.02 L88.33,314.54 L90.00,315.03 L91.64,315.53 L93.26,316.02 L94.88,316.50 L96.52,316.95 L98.22,317.36 L100.00,317.72 L101.87,318.02 L103.81,318.28 L105.81,318.50 L107.85,318.69 L109.92,318.84 L112.00,318.98 L114.12,319.10 L116.30,319.18 L118.50,319.24 L120.70,319.28 L122.88,319.29 L125.00,319.30 L127.07,319.28 L129.12,319.24 L131.14,319.18 L133.13,319.11 L135.09,319.04 L137.00,318.98 L138.86,318.92 L140.66,318.86 L142.43,318.79 L144.18,318.73 L145.93,318.68 L147.70,318.67 L149.47,318.68 L151.22,318.73 L152.97,318.79 L154.74,318.86 L156.54,318.92 L158.40,318.98 L160.31,319.04 L162.27,319.11 L164.26,319.18 L166.28,319.24 L168.33,319.28 L170.40,319.30 L172.52,319.29 L174.70,319.28 L176.90,319.24 L179.10,319.18 L181.28,319.10 L183.40,318.98 L185.48,318.84 L187.55,318.69 L189.59,318.50 L191.59,318.28 L193.53,318.02 L195.40,317.72 L197.18,317.36 L198.88,316.95 L200.52,316.50 L202.14,316.02 L203.76,315.53 L205.40,315.03 L207.07,314.54 L208.73,314.02 L210.40,313.49 L212.07,312.96 L213.73,312.42 L215.40,311.87 L217.07,311.33 L218.73,310.77 L220.40,310.21 L222.07,309.66 L223.73,309.10 L225.40,308.56 L227.07,308.00 L228.73,307.43 L230.40,306.87 L232.07,306.33 L233.73,305.83 L235.40,305.40 L237.09,305.03 L238.80,304.71 L240.51,304.43 L242.19,304.19 L243.83,303.99 L245.40,303.82 L246.98,303.69 L248.60,303.61 L250.17,303.56 L251.61,303.54 L252.82,303.52 L253.70,303.50" fill="none" stroke="#c8d822" stroke-width="5.2" stroke-linecap="round" stroke-linejoin="round"/>
<path d="M41.70,303.50 L42.58,303.52 L43.79,303.54 L45.23,303.56 L46.80,303.61 L48.42,303.69 L50.00,303.82 L51.57,303.99 L53.21,304.19 L54.89,304.43 L56.60,304.71 L58.31,305.03 L60.00,305.40 L61.67,305.83 L63.33,306.33 L65.00,306.87 L66.67,307.43 L68.33,308.00 L70.00,308.56 L71.67,309.10 L73.33,309.66 L75.00,310.22 L76.67,310.77 L78.33,311.33 L80.00,311.87 L81.67,312.42 L83.33,312.96 L85.00,313.49 L86.67,314.02 L88.33,314.54 L90.00,315.03 L91.64,315.53 L93.26,316.02 L94.88,316.50 L96.52,316.95 L98.22,317.36 L100.00,317.72 L101.87,318.02 L103.81,318.28 L105.81,318.50 L107.85,318.69 L109.92,318.84 L112.00,318.98 L114.12,319.10 L116.30,319.18 L118.50,319.24 L120.70,319.28 L122.88,319.29 L125.00,319.30 L127.07,319.28 L129.12,319.24 L131.14,319.18 L133.13,319.11 L135.09,319.04 L137.00,318.98 L138.86,318.92 L140.66,318.86 L142.43,318.79 L144.18,318.73 L145.93,318.68 L147.70,318.67 L149.47,318.68 L151.22,318.73 L152.97,318.79 L154.74,318.86 L156.54,318.92 L158.40,318.98 L160.31,319.04 L162.27,319.11 L164.26,319.18 L166.28,319.24 L168.33,319.28 L170.40,319.30 L172.52,319.29 L174.70,319.28 L176.90,319.24 L179.10,319.18 L181.28,319.10 L183.40,318.98 L185.48,318.84 L187.55,318.69 L189.59,318.50 L191.59,318.28 L193.53,318.02 L195.40,317.72 L197.18,317.36 L198.88,316.95 L200.52,316.50 L202.14,316.02 L203.76,315.53 L205.40,315.03 L207.07,314.54 L208.73,314.02 L210.40,313.49 L212.07,312.96 L213.73,312.42 L215.40,311.87 L217.07,311.33 L218.73,310.77 L220.40,310.21 L222.07,309.66 L223.73,309.10 L225.40,308.56 L227.07,308.00 L228.73,307.43 L230.40,306.87 L232.07,306.33 L233.73,305.83 L235.40,305.40 L237.09,305.03 L238.80,304.71 L240.51,304.43 L242.19,304.19 L243.83,303.99 L245.40,303.82 L246.98,303.69 L248.60,303.61 L250.17,303.56 L251.61,303.54 L252.82,303.52 L253.70,303.50" fill="none" stroke="#d4e030" stroke-width="2.2" stroke-linecap="round" stroke-linejoin="round"/>
<line x1="53.5" y1="6.2" x2="53.5" y2="210.7" stroke="#bababa" stroke-width="1"/>
<line x1="53.5" y1="210.7" x2="322.8" y2="210.7" stroke="#bababa" stroke-width="1"/>
<line x1="41.5" y1="281.6" x2="41.5" y2="487" stroke="#b8b8b8" stroke-width="1"/>
<line x1="41" y1="486.5" x2="289" y2="486.5" stroke="#b8b8b8" stroke-width="1"/>
<path d="M282.60,11.00L284.80,8.50L287.00,11.00L284.80,13.50Z" fill="none" stroke="#6c6cc8" stroke-width="0.8"/>
<text x="289.80" y="14.00" font-size="8.8" text-anchor="start" font-weight="normal" fill="#2a2a2a" stroke="#2a2a2a" stroke-width="0.08" textLength="69.9" lengthAdjust="spacingAndGlyphs" >Elapsed time = 60 s</text>
<path d="M282.40,24.70h4.8v4.8h-4.8Z" fill="none" stroke="#c3a848" stroke-width="0.8"/>
<text x="289.80" y="30.10" font-size="8.8" text-anchor="start" font-weight="normal" fill="#2a2a2a" stroke="#2a2a2a" stroke-width="0.08" textLength="74.8" lengthAdjust="spacingAndGlyphs" >Elapsed time = 120 s</text>
<path d="M282.30,45.42L284.80,40.80L287.30,45.42Z" fill="none" stroke="#77934a" stroke-width="0.8"/>
<text x="289.80" y="46.30" font-size="8.8" text-anchor="start" font-weight="normal" fill="#2a2a2a" stroke="#2a2a2a" stroke-width="0.08" textLength="74.8" lengthAdjust="spacingAndGlyphs" >Elapsed time = 180 s</text>
<path d="M282.60,57.20L287.00,61.60M282.60,61.60L287.00,57.20" fill="none" stroke="#ccd828" stroke-width="0.8"/>
<text x="289.80" y="62.40" font-size="8.8" text-anchor="start" font-weight="normal" fill="#2a2a2a" stroke="#2a2a2a" stroke-width="0.08" textLength="74.8" lengthAdjust="spacingAndGlyphs" >Elapsed time = 240 s</text>
<path d="M285.30,290.40L287.50,287.90L289.70,290.40L287.50,292.90Z" fill="none" stroke="#6c6cc8" stroke-width="0.8"/>
<text x="292.30" y="293.40" font-size="8.8" text-anchor="start" font-weight="normal" fill="#2a2a2a" stroke="#2a2a2a" stroke-width="0.08" textLength="69.9" lengthAdjust="spacingAndGlyphs" >Elapsed time = 60 s</text>
<path d="M285.10,304.00h4.8v4.8h-4.8Z" fill="none" stroke="#c3a848" stroke-width="0.8"/>
<text x="292.30" y="309.40" font-size="8.8" text-anchor="start" font-weight="normal" fill="#2a2a2a" stroke="#2a2a2a" stroke-width="0.08" textLength="74.8" lengthAdjust="spacingAndGlyphs" >Elapsed time = 120 s</text>
<path d="M285.00,324.73L287.50,320.10L290.00,324.73Z" fill="none" stroke="#77934a" stroke-width="0.8"/>
<text x="292.30" y="325.60" font-size="8.8" text-anchor="start" font-weight="normal" fill="#2a2a2a" stroke="#2a2a2a" stroke-width="0.08" textLength="74.8" lengthAdjust="spacingAndGlyphs" >Elapsed time = 180 s</text>
<path d="M285.30,337.00L289.70,341.40M285.30,341.40L289.70,337.00" fill="none" stroke="#ccd828" stroke-width="0.8"/>
<text x="292.30" y="342.20" font-size="8.8" text-anchor="start" font-weight="normal" fill="#2a2a2a" stroke="#2a2a2a" stroke-width="0.08" textLength="74.8" lengthAdjust="spacingAndGlyphs" >Elapsed time = 240 s</text>
</svg>
</body></html>
